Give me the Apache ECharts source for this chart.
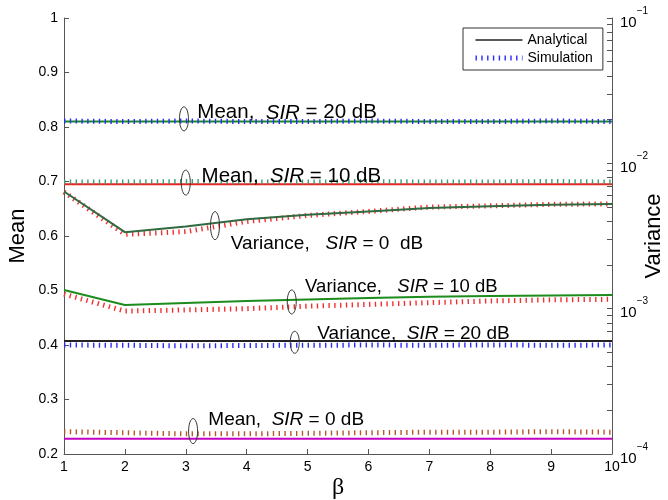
<!DOCTYPE html>
<html lang="en">
<head>
<meta charset="utf-8">
<title>Mean and variance vs beta</title>
<script src="https://cdn.jsdelivr.net/npm/echarts@6/dist/echarts.min.js"></script>
<style>
  html, body { margin: 0; padding: 0; background: #fff; }
  #chart { width: 668px; height: 500px; }
</style>
</head>
<body>
<div id="chart"></div>
<script>
// beta values (x axis)
var beta = [1, 2, 3, 4, 5, 6, 7, 8, 9, 10];

// mean (left axis)
var meanAna20 = [0.810, 0.810, 0.810, 0.810, 0.810, 0.810, 0.810, 0.810, 0.810, 0.810];
var meanSim20 = [0.811, 0.810, 0.811, 0.810, 0.810, 0.811, 0.810, 0.810, 0.811, 0.810];
var meanAna10 = [0.695, 0.695, 0.695, 0.695, 0.695, 0.695, 0.695, 0.695, 0.695, 0.695];
var meanSim10 = [0.699, 0.699, 0.700, 0.699, 0.699, 0.700, 0.699, 0.699, 0.700, 0.699];
var meanAna0  = [0.228, 0.228, 0.228, 0.228, 0.228, 0.228, 0.228, 0.228, 0.228, 0.228];
var meanSim0  = [0.241, 0.239, 0.237, 0.237, 0.238, 0.239, 0.240, 0.240, 0.241, 0.240];

// variance (right log axis)
var varAna0  = [6.40e-3, 3.36e-3, 3.67e-3, 4.13e-3, 4.42e-3, 4.67e-3, 4.92e-3, 5.06e-3, 5.18e-3, 5.26e-3];
var varSim0  = [6.35e-3, 3.25e-3, 3.39e-3, 3.98e-3, 4.38e-3, 4.67e-3, 5.00e-3, 5.10e-3, 5.22e-3, 5.26e-3];
var varAna10 = [1.345e-3, 1.059e-3, 1.094e-3, 1.13e-3, 1.157e-3, 1.185e-3, 1.21e-3, 1.22e-3, 1.23e-3, 1.24e-3];
var varSim10 = [1.26e-3, 9.63e-4, 9.8e-4, 1.0e-3, 1.04e-3, 1.07e-3, 1.10e-3, 1.13e-3, 1.15e-3, 1.16e-3];
var varAna20 = [6.0e-4, 6.0e-4, 6.0e-4, 6.0e-4, 6.0e-4, 6.0e-4, 6.0e-4, 6.0e-4, 6.0e-4, 6.0e-4];
var varSim20 = [5.62e-4, 5.60e-4, 5.55e-4, 5.58e-4, 5.60e-4, 5.62e-4, 5.60e-4, 5.63e-4, 5.60e-4, 5.62e-4];

// right axis ticks (decades + minor 2..9)
var varDecades = [1e-4, 1e-3, 1e-2, 1e-1];
var varTicks = [];
for (var d = 0; d < 3; d++) {
    for (var m = 1; m < 10; m++) varTicks.push(m * varDecades[d]);
}
varTicks.push(1e-1);

// annotations, in (beta, mean) coordinates
var annoText = [
    'Mean,  {i|SIR} = 20 dB',
    'Mean,  {i|SIR} = 10 dB',
    'Variance,   {i|SIR} = 0  dB',
    'Variance,   {i|SIR} = 10 dB',
    'Variance,  {i|SIR} = 20 dB',
    'Mean,  {i|SIR} = 0 dB'
];
var annoEllipse = [[2.97, 0.815], [3.00, 0.698], [3.48, 0.619], [4.74, 0.479], [4.79, 0.405], [3.12, 0.242]];
var annoLabel   = [[3.19, 0.826], [3.26, 0.710], [3.74, 0.585], [4.96, 0.506], [5.16, 0.420], [3.37, 0.262]];
var annoRy = [12, 12.5, 14, 12, 11, 12.5];
var annoSize = [20.5, 20.5, 19, 18.5, 19, 19];

var FONT = 'Liberation Sans, Arial, sans-serif';
var DOT = [1.4, 4.4];

function pairs(ys) {
    return beta.map(function (b, i) { return [b, ys[i]]; });
}
function solid(name, color, ys, axis) {
    return {
        name: name, type: 'line', yAxisIndex: axis, data: pairs(ys),
        symbol: 'none', silent: true,
        lineStyle: { color: color, width: 2 },
        itemStyle: { color: color }
    };
}
function dotted(name, color, ys, axis) {
    return {
        name: name, type: 'line', yAxisIndex: axis, data: pairs(ys),
        symbol: 'none', silent: true,
        lineStyle: { color: color, width: 5, type: DOT },
        itemStyle: { color: color }
    };
}

var myChart = echarts.init(document.getElementById('chart'));

var option = {
    animation: false,
    textStyle: { fontFamily: FONT },
    grid: { left: 64, right: 56, top: 18, bottom: 46, containLabel: false, outerBoundsMode: 'none' },
    legend: {
        data: [
            { name: 'Analytical', lineStyle: { width: 1.5, color: '#222' } },
            { name: 'Simulation', lineStyle: { width: 5, type: DOT, color: '#2a2aff' } }
        ],
        orient: 'vertical',
        left: 463, top: 28,
        padding: [5, 10, 5, 10],
        itemGap: 4,
        itemWidth: 47, itemHeight: 15,
        borderColor: '#333', borderWidth: 1,
        backgroundColor: '#fff',
        itemStyle: { opacity: 0 },
        textStyle: { fontSize: 14, color: '#000', fontFamily: FONT }
    },
    xAxis: {
        type: 'value', min: 1, max: 10, interval: 1,
        name: 'β', nameLocation: 'middle', nameGap: 22, nameMoveOverlap: false,
        nameTextStyle: { fontSize: 24, color: '#000', fontFamily: 'Liberation Serif, serif' },
        axisLine: { lineStyle: { color: '#555' } },
        axisTick: { inside: true, length: 5, lineStyle: { color: '#555' } },
        axisLabel: { fontSize: 14, color: '#000', margin: 6 },
        splitLine: { show: false }
    },
    yAxis: [{
        type: 'value', min: 0.2, max: 1, interval: 0.1, position: 'left',
        name: 'Mean', nameLocation: 'middle', nameGap: 35, nameMoveOverlap: false,
        nameTextStyle: { fontSize: 22, color: '#000' },
        axisLine: { show: true, lineStyle: { color: '#555' } },
        axisTick: { show: true, inside: true, length: 5, lineStyle: { color: '#555' } },
        axisLabel: { fontSize: 14, color: '#000', margin: 6 },
        splitLine: { show: false }
    }, {
        type: 'log', logBase: 10, min: 1e-4, max: 1e-1, position: 'right',
        name: 'Variance', nameLocation: 'middle', nameGap: 31, nameMoveOverlap: false,
        nameTextStyle: { fontSize: 22, color: '#000' },
        axisLine: { show: true, lineStyle: { color: '#555' } },
        axisTick: { show: true, inside: true, length: 5, customValues: varTicks, lineStyle: { color: '#555' } },
        axisLabel: {
            margin: 8, customValues: varDecades,
            formatter: function (v) {
                var e = Math.round(Math.log10(v));
                return '{b|10}{s|' + (e < 0 ? '\u2212' + (-e) : e) + '}';
            },
            rich: {
                b: { fontSize: 15, lineHeight: 24, verticalAlign: 'bottom', color: '#000', fontFamily: FONT },
                s: { fontSize: 10, lineHeight: 12, verticalAlign: 'top', color: '#000', fontFamily: FONT }
            }
        },
        splitLine: { show: false }
    }],
    series: [
        solid('Mean SIR 20 analytical', '#1c8c1c', meanAna20, 0),
        dotted('Simulation', '#2a2aff', meanSim20, 0),
        solid('Mean SIR 10 analytical', '#f02020', meanAna10, 0),
        dotted('Mean SIR 10 simulation', '#3d9a72', meanSim10, 0),
        solid('Mean SIR 0 analytical', '#c400c4', meanAna0, 0),
        dotted('Mean SIR 0 simulation', '#b4582a', meanSim0, 0),
        dotted('Var SIR 0 simulation', '#f03030', varSim0, 1),
        solid('Var SIR 0 analytical', '#2f6a40', varAna0, 1),
        dotted('Var SIR 10 simulation', '#f03030', varSim10, 1),
        solid('Var SIR 10 analytical', '#1c8c1c', varAna10, 1),
        solid('Analytical', '#222', varAna20, 1),
        dotted('Var SIR 20 simulation', '#2a2aff', varSim20, 1)
    ]
};
myChart.setOption(option);

// ellipses and labels placed through the chart's own scales
var graphics = [];
annoText.forEach(function (t, i) {
    var pe = myChart.convertToPixel({ xAxisIndex: 0, yAxisIndex: 0 }, annoEllipse[i]);
    var pt = myChart.convertToPixel({ xAxisIndex: 0, yAxisIndex: 0 }, annoLabel[i]);
    graphics.push({
        type: 'ellipse', silent: true, z: 10,
        shape: { cx: pe[0], cy: pe[1], rx: 4.5, ry: annoRy[i] },
        style: { fill: 'none', stroke: '#333', lineWidth: 1 }
    });
    graphics.push({
        type: 'text', silent: true, z: 10,
        x: pt[0], y: pt[1],
        style: {
            text: t, fill: '#000', fontSize: annoSize[i], fontFamily: FONT,
            verticalAlign: 'middle', align: 'left',
            rich: { i: { fontStyle: 'italic', fontSize: annoSize[i], fontFamily: FONT } }
        }
    });
});
myChart.setOption({ graphic: graphics });
</script>
</body>
</html>
